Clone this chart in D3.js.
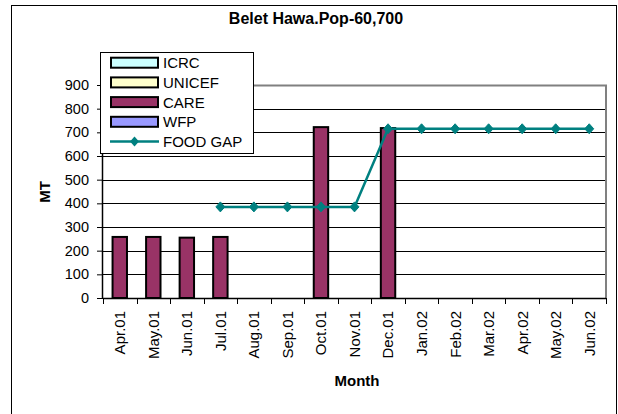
<!DOCTYPE html>
<html>
<head>
<meta charset="utf-8">
<script src="https://cdn.jsdelivr.net/npm/d3@7/dist/d3.min.js"></script>
<style>
  html, body { margin: 0; padding: 0; background: #fff; }
  svg { display: block; font-family: "Liberation Sans", Arial, sans-serif; }
</style>
</head>
<body>
<svg id="chart" width="618" height="414"></svg>
<script>
const months = ["Apr.01","May.01","Jun.01","Jul.01","Aug.01","Sep.01","Oct.01","Nov.01","Dec.01","Jan.02","Feb.02","Mar.02","Apr.02","May.02","Jun.02"];
const icrc   = [0,0,0,0,0,0,0,0,0,0,0,0,0,0,0];
const unicef = [0,0,0,0,0,0,0,0,0,0,0,0,0,0,0];
const care   = [258,258,255,258,0,0,722,0,718,0,0,0,0,0,0];
const wfp    = [0,0,0,0,0,0,0,0,0,0,0,0,0,0,0];
const foodGap = [null,null,null,385,385,385,385,385,715,715,715,715,715,715,715];
const yTicks = [0,100,200,300,400,500,600,700,800,900];
const seriesNames = ["ICRC","UNICEF","CARE","WFP"];
const seriesColors = ["#CCFFFF","#FFFFCC","#993366","#9999FF"];
const lineName = "FOOD GAP";
const lineColor = "#008080";

(function () {
const svg = d3.select("#chart");
const pLeft = 103, pRight = 606, pTop = 85, pBottom = 298;

// outer frame
svg.append("rect").attr("x", 11.5).attr("y", 5.5).attr("width", 605).attr("height", 412)
  .attr("fill", "#fff").attr("stroke", "#000").attr("stroke-width", 1);

const x = d3.scaleBand().domain(months).range([pLeft, pRight]).padding(0);
const y = d3.scaleLinear().domain([0, 900]).range([pBottom, pTop]);

// gridlines
svg.append("g").selectAll("line").data(yTicks.filter(t => t > 0 && t < 900)).join("line")
  .attr("x1", pLeft).attr("x2", pRight)
  .attr("y1", d => Math.round(y(d)) + 0.5).attr("y2", d => Math.round(y(d)) + 0.5)
  .attr("stroke", "#000").attr("stroke-width", 1);

// plot border (top/right grey)
svg.append("path")
  .attr("d", `M${pLeft},${Math.round(y(900))+0.5}H${pRight}V${pBottom}`)
  .attr("fill", "none").attr("stroke", "#808080").attr("stroke-width", 2);

// stacked bars
const table = months.map((m, i) => ({ month: m, ICRC: icrc[i], UNICEF: unicef[i], CARE: care[i], WFP: wfp[i] }));
const stacked = d3.stack().keys(seriesNames)(table);
const barW = x.bandwidth() * 0.43;
stacked.forEach((s, si) => {
  svg.append("g").selectAll("rect").data(s.filter(d => d[1] - d[0] > 0)).join("rect")
    .attr("x", d => x(d.data.month) + (x.bandwidth() - barW) / 2)
    .attr("y", d => y(d[1]))
    .attr("width", barW)
    .attr("height", d => y(d[0]) - y(d[1]))
    .attr("fill", seriesColors[si])
    .attr("stroke", "#000").attr("stroke-width", 2);
});

// axes
const yAxis = d3.axisLeft(y).tickValues(yTicks).tickSize(6).tickPadding(8).tickFormat(d3.format("d"));
const gy = svg.append("g").attr("transform", `translate(${pLeft},0)`).call(yAxis);
gy.select(".domain").attr("stroke", "#000").attr("stroke-width", 1.5).attr("d", `M-0.5,${pTop}V${pBottom}`);
gy.selectAll(".tick line").attr("stroke", "#000");
gy.selectAll(".tick text").attr("font-size", 14.5).attr("fill", "#000")
  .attr("font-family", "'Liberation Sans', Arial, sans-serif");

const xAxis = d3.axisBottom(x).tickSize(0).tickFormat(d => d);
const gx = svg.append("g").attr("transform", `translate(0,${pBottom})`).call(xAxis);
gx.select(".domain").attr("stroke", "#000").attr("stroke-width", 1.5).attr("d", `M${pLeft},0.5H${pRight}`);
gx.selectAll(".tick text")
  .attr("font-size", 15).attr("fill", "#000")
  .attr("font-family", "'Liberation Sans', Arial, sans-serif")
  .attr("text-anchor", "end")
  .attr("transform", "rotate(-90)")
  .attr("x", -13).attr("y", 0).attr("dy", "0.36em");
// tick marks at category boundaries
svg.append("g").selectAll("line").data(months.concat(["_end"])).join("line")
  .attr("x1", (d, i) => Math.round(i < months.length ? x(d) : pRight) + 0.5)
  .attr("x2", (d, i) => Math.round(i < months.length ? x(d) : pRight) + 0.5)
  .attr("y1", pBottom).attr("y2", pBottom + 6)
  .attr("stroke", "#000");

// line series
const cx = d => x(d) + x.bandwidth() / 2;
const lineData = months.map((m, i) => ({ m, v: foodGap[i] })).filter(d => d.v != null);
svg.append("path").datum(lineData)
  .attr("d", d3.line().x(d => cx(d.m)).y(d => y(d.v)))
  .attr("fill", "none").attr("stroke", lineColor).attr("stroke-width", 2.5);
svg.append("g").selectAll("path").data(lineData).join("path")
  .attr("transform", d => `translate(${cx(d.m)},${y(d.v)})`)
  .attr("d", "M0,-5L4.5,0L0,5L-4.5,0Z")
  .attr("fill", lineColor).attr("stroke", lineColor).attr("stroke-width", 1);

// titles
svg.append("text").attr("x", 316).attr("y", 24).attr("text-anchor", "middle")
  .attr("font-size", 16).attr("font-weight", "bold").text("Belet Hawa.Pop-60,700");
svg.append("text").attr("x", 357).attr("y", 386).attr("text-anchor", "middle")
  .attr("font-size", 15).attr("font-weight", "bold").text("Month");
svg.append("text").attr("transform", "translate(50,192) rotate(-90)").attr("text-anchor", "middle")
  .attr("font-size", 15).attr("font-weight", "bold").text("MT");

// legend
const lg = svg.append("g");
lg.append("rect").attr("x", 100.5).attr("y", 52.5).attr("width", 153).attr("height", 101)
  .attr("fill", "#fff").attr("stroke", "#000").attr("stroke-width", 1);
const rowY = i => 62.7 + i * 19.7;
seriesNames.forEach((n, i) => {
  lg.append("rect").attr("x", 111).attr("y", rowY(i) - 5).attr("width", 47).attr("height", 10)
    .attr("fill", seriesColors[i]).attr("stroke", "#000").attr("stroke-width", 2);
  lg.append("text").attr("x", 163).attr("y", rowY(i)).attr("dy", "0.36em")
    .attr("font-size", 15).text(n);
});
const ly = rowY(4);
lg.append("line").attr("x1", 110).attr("x2", 159).attr("y1", ly).attr("y2", ly)
  .attr("stroke", lineColor).attr("stroke-width", 2.5);
lg.append("path").attr("transform", `translate(134.5,${ly})`).attr("d", "M0,-5L4.5,0L0,5L-4.5,0Z")
  .attr("fill", lineColor);
lg.append("text").attr("x", 163).attr("y", ly).attr("dy", "0.36em").attr("font-size", 15).text(lineName);
})();
</script>
</body>
</html>
